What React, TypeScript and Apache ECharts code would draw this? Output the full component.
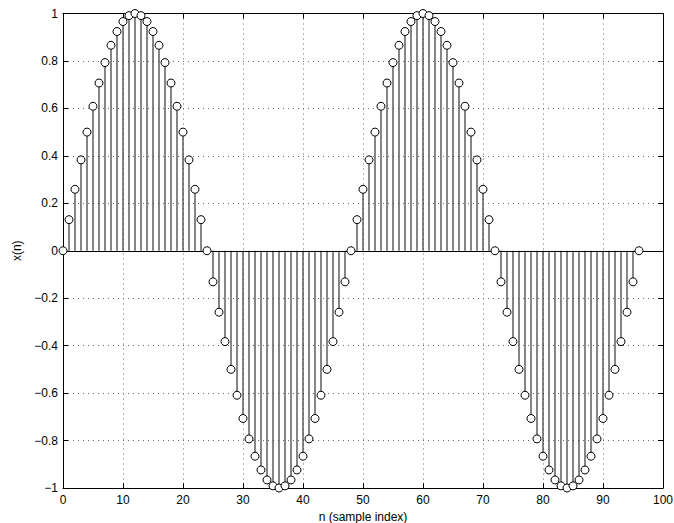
import React, { useEffect, useRef } from "react";
import * as echarts from "echarts";

const sampleIndex: number[] = Array.from({ length: 97 }, (_, i) => i);
const sampleValues: number[] = [
  0, 0.131, 0.259, 0.383, 0.5, 0.609, 0.707, 0.793, 0.866, 0.924, 0.966, 0.991, 1,
  0.991, 0.966, 0.924, 0.866, 0.793, 0.707, 0.609, 0.5, 0.383, 0.259, 0.131, 0,
  -0.131, -0.259, -0.383, -0.5, -0.609, -0.707, -0.793, -0.866, -0.924, -0.966, -0.991, -1,
  -0.991, -0.966, -0.924, -0.866, -0.793, -0.707, -0.609, -0.5, -0.383, -0.259, -0.131,
  0, 0.131, 0.259, 0.383, 0.5, 0.609, 0.707, 0.793, 0.866, 0.924, 0.966, 0.991, 1,
  0.991, 0.966, 0.924, 0.866, 0.793, 0.707, 0.609, 0.5, 0.383, 0.259, 0.131, 0,
  -0.131, -0.259, -0.383, -0.5, -0.609, -0.707, -0.793, -0.866, -0.924, -0.966, -0.991, -1,
  -0.991, -0.966, -0.924, -0.866, -0.793, -0.707, -0.609, -0.5, -0.383, -0.259, -0.131,
  0,
];
const xTitle = "n (sample index)";
const yTitle = "x(n)";

const FONT = "'Liberation Sans', Arial, Helvetica, sans-serif";

export default function App() {
  const ref = useRef<HTMLDivElement>(null);
  useEffect(() => {
    if (!ref.current) return;
    const chart = echarts.init(ref.current, undefined, { renderer: "svg" });
    const pts = sampleIndex.map((n, i) => [n, sampleValues[i]]);
    const fmt = (v: number) => String(Math.round(v * 10) / 10).replace("-", "\u2212");
    const tickStyle = { inside: true, length: 5, lineStyle: { color: "#000", width: 1 } };
    const split = { show: true, lineStyle: { color: "#666", type: [1, 4] as any, width: 1 } };
    chart.setOption({
      animation: false,
      backgroundColor: "#fff",
      grid: { left: 63, right: 11, top: 13.5, bottom: 35, containLabel: false, outerBoundsMode: "none" },
      xAxis: [
        {
          type: "value", min: 0, max: 100, interval: 10, position: "bottom",
          name: xTitle, nameLocation: "middle", nameGap: 19,
          nameTextStyle: { fontFamily: FONT, fontSize: 12, color: "#000" },
          axisLine: { show: true, onZero: false, lineStyle: { color: "#000", width: 1 } },
          axisTick: tickStyle,
          axisLabel: { fontFamily: FONT, fontSize: 12, color: "#000", margin: 6 },
          splitLine: split,
        },
        {
          type: "value", min: 0, max: 100, interval: 10, position: "top",
          axisLine: { show: true, onZero: false, lineStyle: { color: "#000", width: 1 } },
          axisTick: tickStyle, axisLabel: { show: false }, splitLine: { show: false },
        },
      ],
      yAxis: [
        {
          type: "value", min: -1, max: 1, interval: 0.2, position: "left",
          name: yTitle, nameLocation: "middle", nameGap: 31, nameRotate: 90,
          nameTextStyle: { fontFamily: FONT, fontSize: 12, color: "#000" },
          axisLine: { show: true, onZero: false, lineStyle: { color: "#000", width: 1 } },
          axisTick: tickStyle,
          axisLabel: { fontFamily: FONT, fontSize: 12, color: "#000", margin: 5, formatter: fmt },
          splitLine: split,
        },
        {
          type: "value", min: -1, max: 1, interval: 0.2, position: "right",
          axisLine: { show: true, onZero: false, lineStyle: { color: "#000", width: 1 } },
          axisTick: tickStyle, axisLabel: { show: false }, splitLine: { show: false },
        },
      ],
      series: [
        {
          type: "custom",
          xAxisIndex: 0, yAxisIndex: 0,
          data: pts,
          renderItem: (params: any, api: any) => {
            const a = api.coord([api.value(0), 0]);
            const b = api.coord([api.value(0), api.value(1)]);
            return {
              type: "line",
              shape: { x1: a[0], y1: a[1], x2: b[0], y2: b[1] },
              style: { stroke: "#444", lineWidth: 1.3 },
            };
          },
          z: 2,
        },
        {
          type: "scatter",
          xAxisIndex: 0, yAxisIndex: 0,
          data: pts,
          symbol: "circle",
          symbolSize: 8,
          itemStyle: { color: "#fff", borderColor: "#000", borderWidth: 1, opacity: 1 },
          z: 4,
          markLine: {
            silent: true,
            symbol: "none",
            label: { show: false },
            lineStyle: { color: "#000", width: 1, type: "solid" },
            data: [{ yAxis: 0 }],
            z: 3,
          },
        },
      ],
    });
    return () => chart.dispose();
  }, []);
  return (
    <div
      ref={ref}
      style={{ position: "absolute", left: 0, top: 0, width: 674, height: 523, background: "#fff" }}
    />
  );
}
